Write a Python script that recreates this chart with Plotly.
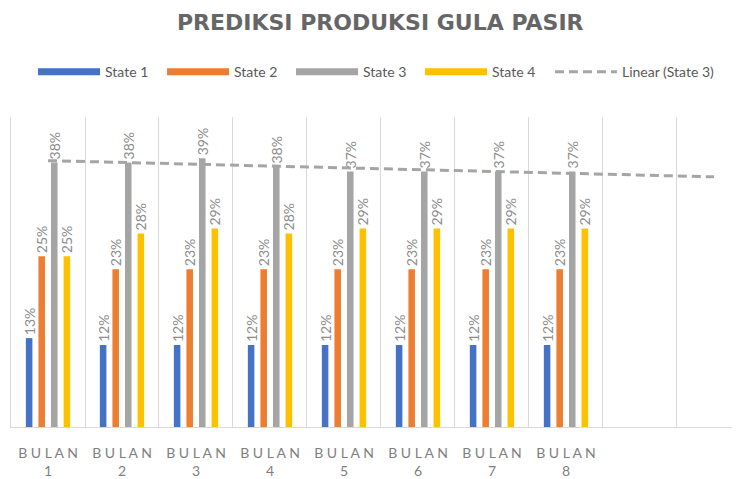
import numpy as np
import plotly.graph_objects as go

categories = ["1", "2", "3", "4", "5", "6", "7", "8", "9", "10"]
tick_text = ["B U L A N<br>1", "B U L A N<br>2", "B U L A N<br>3", "B U L A N<br>4",
             "B U L A N<br>5", "B U L A N<br>6", "B U L A N<br>7", "B U L A N<br>8", "", ""]
months = categories[:8]

state1 = [0.129, 0.119, 0.119, 0.119, 0.119, 0.119, 0.119, 0.119]
state2 = [0.248, 0.229, 0.229, 0.229, 0.229, 0.229, 0.229, 0.229]
state3 = [0.384, 0.384, 0.390, 0.378, 0.371, 0.371, 0.371, 0.371]
state4 = [0.248, 0.281, 0.288, 0.281, 0.288, 0.288, 0.288, 0.288]

series_names = ["State 1", "State 2", "State 3", "State 4"]
series_values = [state1, state2, state3, state4]
colors = ["#4472C4", "#ED7D31", "#A5A5A5", "#FFC000"]

# linear trendline of State 3 (Excel "Linear" trendline), extended to all categories
xi = np.arange(1, 9)
slope, intercept = np.polyfit(xi, state3, 1)
trend = (slope * np.arange(1, 11) + intercept).tolist()

FONT = "Lato"
fig = go.Figure()
for name, vals, col in zip(series_names, series_values, colors):
    fig.add_trace(go.Bar(
        x=months, y=vals, name=name, marker_color=col, marker_line_width=0,
        texttemplate="%{y:.0%}", textposition="outside", textangle=-90,
        constraintext="none",
        textfont=dict(family=FONT, size=14, color="#8c8c8c"),
        cliponaxis=False, showlegend=False, legendgroup=name,
    ))
    # legend swatch (long bar-like line, as in the original legend)
    fig.add_trace(go.Scatter(
        x=[None], y=[None], mode="lines", name=name, legendgroup=name,
        line=dict(color=col, width=7),
    ))

fig.add_trace(go.Scatter(
    x=categories, y=trend, mode="lines", name="Linear (State 3)",
    line=dict(color="#A5A5A5", width=3, dash="9px,5px"), legend="legend2",
))

legend_common = dict(orientation="h", y=1.145, yanchor="middle", xanchor="left",
                     font=dict(family=FONT, size=14, color="#595959"),
                     itemwidth=62, bgcolor="rgba(0,0,0,0)")

fig.update_layout(
    width=740, height=479,
    margin=dict(l=3, r=0, t=109, b=60),
    paper_bgcolor="white", plot_bgcolor="white",
    barmode="group", bargap=0.32, bargroupgap=0.48,
    title=dict(text="PREDIKSI PRODUKSI GULA PASIR", x=0.503, xanchor="center",
               y=0.9708, yanchor="middle",
               font=dict(family="DejaVu Sans", size=22, color="#666666", weight="bold")),
    legend=dict(x=0.0299, entrywidth=52, traceorder="normal", **legend_common),
    legend2=dict(x=0.7313, **legend_common),
    xaxis=dict(type="category", categoryorder="array", categoryarray=categories,
               tickmode="array", tickvals=categories, ticktext=tick_text,
               range=[-0.5, 9.46], tickson="boundaries", ticks="",
               showgrid=True, gridcolor="#D9D9D9", gridwidth=1,
               showline=True, linecolor="#D9D9D9", linewidth=1,
               tickfont=dict(family=FONT, size=14, color="#7f7f7f"),
               ticklabelstandoff=13),
    yaxis=dict(range=[0, 0.45], showticklabels=False, showgrid=False, zeroline=False,
               showline=True, linecolor="#D9D9D9", ticks=""),
)

fig.write_html("out.html")
